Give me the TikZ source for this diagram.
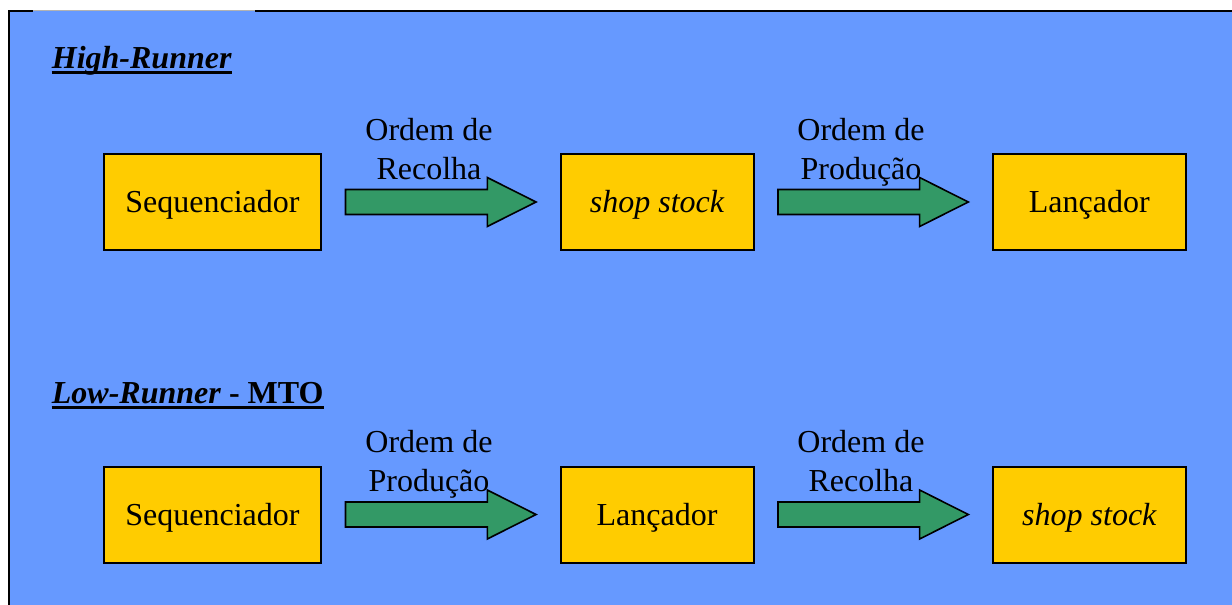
\documentclass[tikz,border=0pt]{standalone}
\usepackage{fontspec}
\setmainfont{Liberation Serif}
\usetikzlibrary{calc}
\definecolor{panel}{HTML}{6699FF}
\definecolor{boxfill}{HTML}{FFCC00}
\definecolor{flowfill}{HTML}{339966}
\newcommand{\bigtext}{\fontsize{32}{38.6}\selectfont}
% block arrow between two stages
\newcommand{\flowarrow}[2]{%
  \draw[flow] let \p1=($(#1.east)+(23.5,0)$), \p2=($(#2.west)+(-23.5,0)$) in
    (\x1,\y1+12.5pt) -- (\x2-48.7pt,\y1+12.5pt) -- (\x2-48.7pt,\y1+24.5pt)
    -- (\x2,\y1) -- (\x2-48.7pt,\y1-24.5pt) -- (\x2-48.7pt,\y1-12.5pt)
    -- (\x1,\y1-12.5pt) -- cycle;}
\begin{document}
\begin{tikzpicture}[x=1pt,y=-1pt,
  stage/.style={draw=black, line width=2pt, fill=boxfill,
    minimum height=96pt, inner sep=0pt, text height=21.5pt, text depth=0pt,
    font=\bigtext},
  widestage/.style={stage, minimum width=217pt},
  narrowstage/.style={stage, minimum width=193pt},
  flowlabel/.style={align=center, inner sep=0pt, anchor=base, font=\bigtext},
  heading/.style={anchor=base west, inner sep=0pt, font=\bigtext\bfseries},
  flow/.style={draw=black, line width=1.6pt, fill=flowfill, line join=miter}
]
\useasboundingbox (0,0) rectangle (1232,605);

% panel with its partly drawn frame
\fill[panel] (8,10) rectangle (1232,605);
\draw[line width=2pt] (8.5,605) -- (8.5,10.5) -- (33,10.5);
\draw[black!30, line width=1.2pt] (33,10.2) -- (255,10.2);
\draw[line width=2pt] (255,10.5) -- (1232,10.5);

% ---- High-Runner
\node[heading] (hrtitle) at (51.7,68.3) {\itshape High-Runner};
\draw[line width=3.2pt] ($(hrtitle.base west)+(0,4.3)$) -- ($(hrtitle.base east)+(0,4.3)$);

\node[widestage]   (hseq)  at (212.5,202) {Sequenciador};
\node[narrowstage] (hshop) at (657,202)   {\itshape shop stock};
\node[narrowstage] (hlan)  at (1089.3,202) {Lançador};

\flowarrow{hseq}{hshop}
\flowarrow{hshop}{hlan}

% labels: the base anchor sits on the second line
\node[flowlabel] (hl1) at (429,179.3) {Ordem de\\Recolha};
\node[flowlabel] (hl2) at (861,179.3) {Ordem de\\Produção};

% ---- Low-Runner - MTO
\node[heading] (lrtitle) at (51.7,403.3) {\itshape Low-Runner\/\upshape{} - MTO};
\draw[line width=2.3pt] ($(lrtitle.base west)+(0,4.2)$) -- ($(lrtitle.base east)+(0,4.2)$);

\node[widestage]   (lseq)  at (212.5,514.5) {Sequenciador};
\node[narrowstage] (llan)  at (657,514.5)   {Lançador};
\node[narrowstage] (lshop) at (1089.3,514.5) {\itshape shop stock};

\flowarrow{lseq}{llan}
\flowarrow{llan}{lshop}

\node[flowlabel] (ll1) at (429,491.3) {Ordem de\\Produção};
\node[flowlabel] (ll2) at (861,491.3) {Ordem de\\Recolha};
\end{tikzpicture}
\end{document}
